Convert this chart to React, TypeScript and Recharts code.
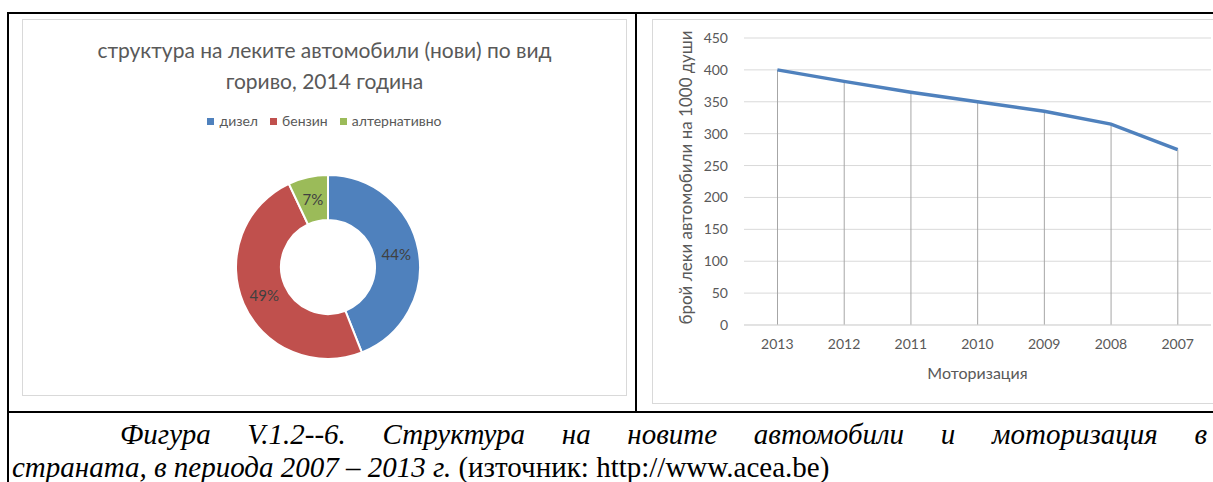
import React from "react";
import {
  PieChart,
  Pie,
  Cell,
  ComposedChart,
  Line,
  Bar,
  XAxis,
  YAxis,
  CartesianGrid,
} from "recharts";

const fuelTypes = ["дизел", "бензин", "алтернативно"];
const fuelShares = [44, 49, 7];
const fuelColors = ["#4F81BD", "#C0504D", "#9BBB59"];

const years = ["2013", "2012", "2011", "2010", "2009", "2008", "2007"];
const carsPer1000 = [400, 382, 365, 350, 335, 315, 275];
const yTicks = [0, 50, 100, 150, 200, 250, 300, 350, 400, 450];

const pieData = fuelTypes.map((name, i) => ({ name, value: fuelShares[i] }));
const lineData = years.map((year, i) => ({ year, value: carsPer1000[i] }));

const FONT = "Lato, 'Open Sans', sans-serif";
const TEXT = "#595959";
const RAD = Math.PI / 180;

const renderPieLabel = (props: any) => {
  const { cx, cy, midAngle, innerRadius, outerRadius, value } = props;
  const r = (innerRadius + outerRadius) / 2;
  const x = cx + r * Math.cos(-midAngle * RAD);
  const y = cy + r * Math.sin(-midAngle * RAD);
  return (
    <text x={x} y={y} textAnchor="middle" dominantBaseline="central" fill="#404040" fontSize={15} fontFamily={FONT}>
      {`${value}%`}
    </text>
  );
};

function FuelLegend() {
  return (
    <div style={{ position: "absolute", top: 91, left: 0, width: "100%", display: "flex", justifyContent: "center", gap: 12, fontSize: 14, color: TEXT, lineHeight: "20px" }}>
      {fuelTypes.map((name, i) => (
        <span key={name} style={{ display: "flex", alignItems: "center" }}>
          <span style={{ display: "inline-block", width: 7, height: 7, background: fuelColors[i], marginRight: 5 }} />
          {name}
        </span>
      ))}
    </div>
  );
}

function FuelDonut() {
  return (
    <div style={{ position: "absolute", left: 22, top: 19, width: 605, height: 377, border: "1px solid #d9d9d9", boxSizing: "border-box", fontFamily: FONT }}>
      <div style={{ position: "absolute", top: 14, left: 0, width: "100%", textAlign: "center", fontSize: 21, lineHeight: "31px", color: TEXT }}>
        структура на леките автомобили (нови) по вид
        <br />
        гориво, 2014 година
      </div>
      <FuelLegend />
      <PieChart width={603} height={375} margin={{ top: 0, right: 0, bottom: 0, left: 0 }} style={{ position: "absolute", left: 0, top: 0 }}>
        <Pie
          data={pieData}
          dataKey="value"
          nameKey="name"
          cx={305}
          cy={247}
          innerRadius={47}
          outerRadius={92}
          startAngle={90}
          endAngle={-270}
          stroke="#ffffff"
          strokeWidth={2}
          labelLine={false}
          label={renderPieLabel}
          isAnimationActive={false}
        >
          {pieData.map((entry, index) => (
            <Cell key={`cell-${index}`} fill={fuelColors[index]} />
          ))}
        </Pie>
      </PieChart>
    </div>
  );
}

function MotorizationChart() {
  return (
    <div style={{ position: "absolute", left: 652, top: 19, width: 570, height: 385, border: "1px solid #d9d9d9", boxSizing: "border-box", fontFamily: FONT }}>
      <ComposedChart width={568} height={383} data={lineData} margin={{ top: 18, right: 10, bottom: 0, left: 0 }}>
        <CartesianGrid vertical={false} stroke="#d9d9d9" />
        <XAxis
          dataKey="year"
          height={78}
          tickLine={false}
          tickSize={0}
          tickMargin={14}
          axisLine={{ stroke: "#d9d9d9" }}
          tick={{ fill: TEXT, fontSize: 14, fontFamily: FONT }}
          label={(p: any) => (
            <text x={p.viewBox.x + p.viewBox.width / 2} y={p.viewBox.y + 47} textAnchor="middle" dominantBaseline="central" fill={TEXT} fontSize={16} fontFamily={FONT}>
              Моторизация
            </text>
          )}
        />
        <YAxis
          width={91}
          domain={[0, 450]}
          ticks={yTicks}
          interval={0}
          tickLine={false}
          axisLine={false}
          tickSize={0}
          tickMargin={16}
          tick={{ fill: TEXT, fontSize: 14, fontFamily: FONT }}
          label={(p: any) => {
            const x = 32;
            const y = p.viewBox.y + p.viewBox.height / 2 - 4;
            return (
              <text x={x} y={y} transform={`rotate(-90 ${x} ${y})`} textAnchor="middle" dominantBaseline="central" fill={TEXT} fontSize={17} fontFamily={FONT}>
                брой леки автомобили на 1000 души
              </text>
            );
          }}
        />
        <Bar dataKey="value" barSize={1} fill="#a6a6a6" isAnimationActive={false} />
        <Line type="linear" dataKey="value" stroke="#4F81BD" strokeWidth={3.5} dot={false} activeDot={false} isAnimationActive={false} />
      </ComposedChart>
    </div>
  );
}

export default function App() {
  const captionFont = "'Liberation Serif', 'Times New Roman', serif";
  return (
    <div style={{ position: "absolute", left: 0, top: 0, width: 1213, height: 482, overflow: "hidden", background: "#fff" }}>
      {/* table rules */}
      <div style={{ position: "absolute", left: 7, top: 12, width: 1220, height: 2, background: "#000" }} />
      <div style={{ position: "absolute", left: 7, top: 12, width: 2, height: 480, background: "#000" }} />
      <div style={{ position: "absolute", left: 635, top: 12, width: 2, height: 401, background: "#000" }} />
      <div style={{ position: "absolute", left: 7, top: 411, width: 1220, height: 2, background: "#000" }} />

      <FuelDonut />
      <MotorizationChart />

      <div
        style={{
          position: "absolute",
          left: 12,
          top: 418,
          width: 1195,
          fontFamily: captionFont,
          fontSize: 29,
          lineHeight: "33px",
          fontStyle: "italic",
          textIndent: 108,
          textAlign: "justify",
          textAlignLast: "justify",
          color: "#000",
          whiteSpace: "nowrap",
        }}
      >
        Фигура V.1.2--6. Структура на новите автомобили и моторизация в
      </div>
      <div
        style={{
          position: "absolute",
          left: 12,
          top: 451,
          fontFamily: captionFont,
          fontSize: 29,
          lineHeight: "33px",
          color: "#000",
          whiteSpace: "nowrap",
        }}
      >
        <i>страната, в периода 2007 – 2013 г.</i> (източник: http://www.acea.be)
      </div>
    </div>
  );
}
